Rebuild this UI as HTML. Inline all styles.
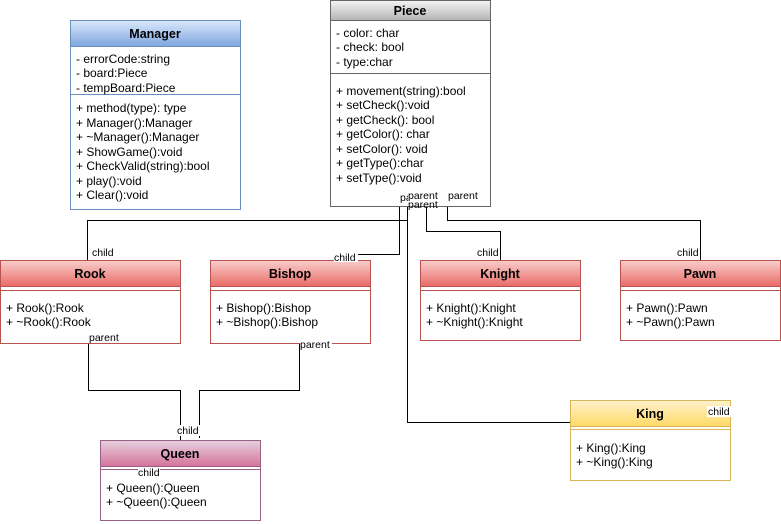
<!DOCTYPE html>
<html><head><meta charset="utf-8"><style>
html,body{margin:0;padding:0;background:#fff}
svg{display:block}
text{font-family:"Liberation Sans",Arial,sans-serif;font-size:12px;fill:#000}
.t{font-weight:bold;font-size:12.5px}
.l{font-size:10.5px}
</style></head><body>
<svg width="781" height="524" viewBox="0 0 781 524">
<defs>
<linearGradient id="gb" x1="0" y1="0" x2="0" y2="1"><stop offset="0" stop-color="#dae8fc"/><stop offset="1" stop-color="#7ea6e0"/></linearGradient>
<linearGradient id="gg" x1="0" y1="0" x2="0" y2="1"><stop offset="0" stop-color="#f5f5f5"/><stop offset="1" stop-color="#b3b3b3"/></linearGradient>
<linearGradient id="gr" x1="0" y1="0" x2="0" y2="1"><stop offset="0" stop-color="#f8cecc"/><stop offset="1" stop-color="#ea6b66"/></linearGradient>
<linearGradient id="gp" x1="0" y1="0" x2="0" y2="1"><stop offset="0" stop-color="#e6d0de"/><stop offset="1" stop-color="#d5739d"/></linearGradient>
<linearGradient id="gy" x1="0" y1="0" x2="0" y2="1"><stop offset="0" stop-color="#fff2cc"/><stop offset="1" stop-color="#ffd966"/></linearGradient>
</defs>
<g fill="none" stroke="#000" stroke-width="1">
<path d="M399.5 206V254.5H357.5V262"/>
<path d="M407.5 206V422.5H731"/>
<path d="M87.5 260V220.5H407.5" />
<path d="M426.5 206V231.5H500.5V260"/>
<path d="M447.5 206V220.5H700.5V260"/>
<path d="M88.5 344V390.5H180.5V440"/>
<path d="M299.5 344V390.5H199.5V438"/>
</g>
<rect x="70.5" y="20.5" width="170" height="189" fill="#fff" stroke="#6c8ebf"/>
<rect x="70.5" y="20.5" width="170" height="26" fill="url(#gb)" stroke="#6c8ebf"/>
<line x1="70.5" y1="94.5" x2="240.5" y2="94.5" stroke="#6c8ebf"/>
<text class="t" x="155" y="38" text-anchor="middle">Manager</text>
<text x="76" y="63">- errorCode:string</text><text x="76" y="77">- board:Piece</text><text x="76" y="92">- tempBoard:Piece</text>
<text x="76" y="112">+ method(type): type</text><text x="76" y="127">+ Manager():Manager</text><text x="76" y="141">+ ~Manager():Manager</text><text x="76" y="156">+ ShowGame():void</text><text x="76" y="170">+ CheckValid(string):bool</text><text x="76" y="185">+ play():void</text><text x="76" y="199">+ Clear():void</text>
<rect x="330.5" y="0.5" width="160" height="206" fill="#fff" stroke="#666"/>
<rect x="330.5" y="0.5" width="160" height="20" fill="url(#gg)" stroke="#666"/>
<line x1="330.5" y1="73.5" x2="490.5" y2="73.5" stroke="#666"/>
<text class="t" x="410" y="15" text-anchor="middle">Piece</text>
<text x="336" y="37">- color: char</text><text x="336" y="51">- check: bool</text><text x="336" y="66">- type:char</text>
<text x="336" y="95">+ movement(string):bool</text><text x="336" y="109">+ setCheck():void</text><text x="336" y="124">+ getCheck(): bool</text><text x="336" y="138">+ getColor(): char</text><text x="336" y="153">+ setColor(): void</text><text x="336" y="167">+ getType():char</text><text x="336" y="182">+ setType():void</text>
<g stroke="#b85450">
<rect x="0.5" y="260.5" width="180" height="83" fill="#fff"/><rect x="0.5" y="260.5" width="180" height="26" fill="url(#gr)"/><line x1="0.5" y1="290.5" x2="180.5" y2="290.5"/>
<rect x="210.5" y="260.5" width="160" height="83" fill="#fff"/><rect x="210.5" y="260.5" width="160" height="26" fill="url(#gr)"/><line x1="210.5" y1="290.5" x2="370.5" y2="290.5"/>
<rect x="420.5" y="260.5" width="160" height="80" fill="#fff"/><rect x="420.5" y="260.5" width="160" height="26" fill="url(#gr)"/><line x1="420.5" y1="290.5" x2="580.5" y2="290.5"/>
<rect x="620.5" y="260.5" width="160" height="80" fill="#fff"/><rect x="620.5" y="260.5" width="160" height="26" fill="url(#gr)"/><line x1="620.5" y1="290.5" x2="780.5" y2="290.5"/>
</g>
<text class="t" x="90" y="278" text-anchor="middle">Rook</text>
<text class="t" x="290" y="278" text-anchor="middle">Bishop</text>
<text class="t" x="500" y="278" text-anchor="middle">Knight</text>
<text class="t" x="700" y="278" text-anchor="middle">Pawn</text>
<text x="6" y="312">+ Rook():Rook</text><text x="6" y="326">+ ~Rook():Rook</text>
<text x="216" y="312">+ Bishop():Bishop</text><text x="216" y="326">+ ~Bishop():Bishop</text>
<text x="426" y="312">+ Knight():Knight</text><text x="426" y="326">+ ~Knight():Knight</text>
<text x="626" y="312">+ Pawn():Pawn</text><text x="626" y="326">+ ~Pawn():Pawn</text>
<rect x="100.5" y="440.5" width="160" height="80" fill="#fff" stroke="#996185"/>
<rect x="100.5" y="440.5" width="160" height="26" fill="url(#gp)" stroke="#996185"/>
<line x1="100.5" y1="469.5" x2="260.5" y2="469.5" stroke="#996185"/>
<text class="t" x="180" y="458" text-anchor="middle">Queen</text>
<text x="106" y="492">+ Queen():Queen</text><text x="106" y="506">+ ~Queen():Queen</text>
<rect x="570.5" y="400.5" width="160" height="80" fill="#fff" stroke="#d6b656"/>
<rect x="570.5" y="400.5" width="160" height="26" fill="url(#gy)" stroke="#d6b656"/>
<line x1="570.5" y1="429.5" x2="730.5" y2="429.5" stroke="#d6b656"/>
<text class="t" x="650" y="418" text-anchor="middle">King</text>
<text x="576" y="452">+ King():King</text><text x="576" y="466">+ ~King():King</text>
<rect x="92" y="247" width="24" height="11" fill="#fff"/><text class="l" x="92" y="256">child</text>
<rect x="334" y="251" width="24" height="11" fill="#fff"/><text class="l" x="334" y="261">child</text>
<text class="l" x="477" y="256">child</text>
<text class="l" x="677" y="256">child</text>
<rect x="707" y="406" width="24" height="11" fill="#fff"/><text class="l" x="708" y="415">child</text>
<text class="l" x="400" y="201">pa</text>
<rect x="408" y="190" width="32" height="11" fill="#fff"/><text class="l" x="408" y="199">parent</text>
<text class="l" x="408" y="208">parent</text>
<text class="l" x="448" y="199">parent</text>
<text class="l" x="89" y="341">parent</text>
<rect x="300" y="339" width="32" height="11" fill="#fff"/><text class="l" x="300" y="348">parent</text>
<rect x="176" y="425" width="24" height="11" fill="#fff"/><text class="l" x="177" y="434">child</text>
<rect x="138" y="467" width="22" height="10" fill="#fff"/><text class="l" x="138" y="476">child</text>
</svg>
</body></html>
